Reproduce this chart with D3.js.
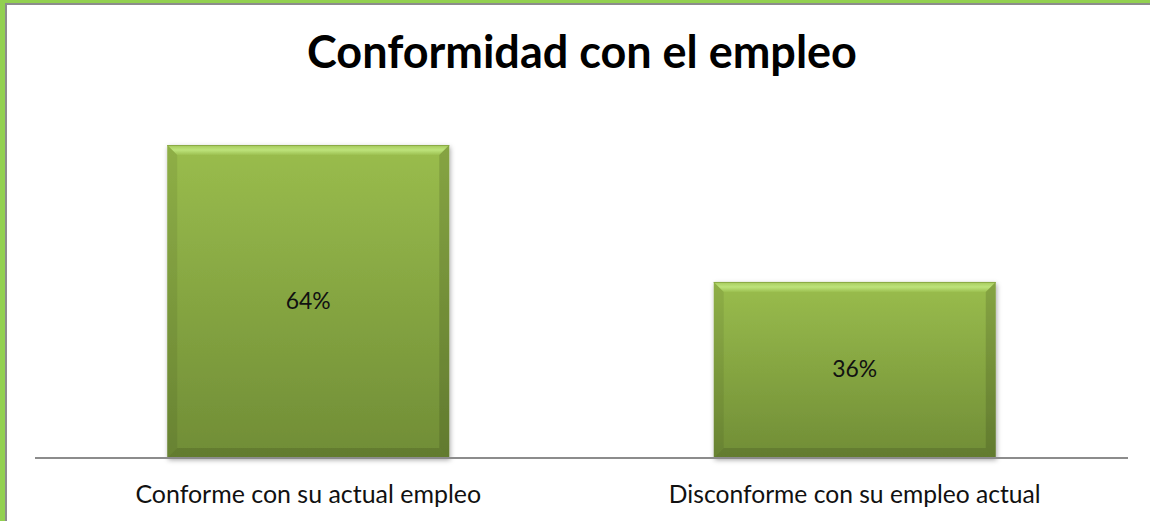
<!DOCTYPE html>
<html><head><meta charset="utf-8">
<script src="https://cdn.jsdelivr.net/npm/d3@7"></script>
<style>html,body{margin:0;padding:0;background:#fff;}svg{display:block;}</style>
</head><body>
<svg id="chart" width="1150" height="521"></svg>
<script>
const title = "Conformidad con el empleo";
const categories = ["Conforme con su actual empleo", "Disconforme con su empleo actual"];
const values = [64, 36];
const valueLabels = ["64%", "36%"];

const W = 1150, H = 521;
const svg = d3.select("#chart");
const font = "Lato, 'Open Sans', 'Liberation Sans', sans-serif";

// frame
svg.append("rect").attr("x",0).attr("y",0).attr("width",W).attr("height",H).attr("fill","#92d050");
svg.append("rect").attr("x",5).attr("y",3).attr("width",W-5).attr("height",H-3).attr("fill","#8c8c8c");
svg.append("rect").attr("x",7).attr("y",5).attr("width",W-7).attr("height",H-5).attr("fill","#ffffff");

const defs = svg.append("defs");
const g1 = defs.append("linearGradient").attr("id","barGrad").attr("x1",0).attr("y1",0).attr("x2",0).attr("y2",1);
g1.append("stop").attr("offset","0%").attr("stop-color","#9abd4d");
g1.append("stop").attr("offset","100%").attr("stop-color","#708d36");
const gTop = defs.append("linearGradient").attr("id","topGrad").attr("x1",0).attr("y1",0).attr("x2",0).attr("y2",1);
gTop.append("stop").attr("offset","0%").attr("stop-color","#a6c95c");
gTop.append("stop").attr("offset","50%").attr("stop-color","#bde37a");
gTop.append("stop").attr("offset","100%").attr("stop-color","#9cc050");
const f = defs.append("filter").attr("id","shadow").attr("x","-10%").attr("y","-10%").attr("width","120%").attr("height","120%");
f.append("feDropShadow").attr("dx",1).attr("dy",2).attr("stdDeviation",2.5).attr("flood-color","#000").attr("flood-opacity",0.35);

const x = d3.scaleBand().domain(categories).range([35, 1128]).paddingInner(0.484).paddingOuter(0.242);
const y = d3.scaleLinear().domain([0, 70]).range([458, 115.7]);

const data = categories.map((c,i)=>({c, v:values[i], lab:valueLabels[i]}));
const bev = 10;

const bars = svg.append("g").selectAll("g").data(data).join("g");
bars.each(function(d){
  const g = d3.select(this);
  const x0 = x(d.c), x1 = x0 + x.bandwidth(), y0 = y(d.v), y1 = y(0);
  g.append("rect").attr("x",x0).attr("y",y0).attr("width",x1-x0).attr("height",y1-y0)
    .attr("fill","url(#barGrad)").attr("filter","url(#shadow)");
  // top bevel
  g.append("polygon").attr("points",[[x0,y0],[x1,y0],[x1-bev,y0+bev],[x0+bev,y0+bev]].join(" "))
    .attr("fill","url(#topGrad)");
  // left bevel
  g.append("polygon").attr("points",[[x0,y0],[x0+bev,y0+bev],[x0+bev,y1-bev],[x0,y1]].join(" "))
    .attr("fill","#000").attr("opacity",0.07);
  // right bevel
  g.append("polygon").attr("points",[[x1,y0],[x1-bev,y0+bev],[x1-bev,y1-bev],[x1,y1]].join(" "))
    .attr("fill","#000").attr("opacity",0.13);
  // bottom bevel
  g.append("polygon").attr("points",[[x0,y1],[x1,y1],[x1-bev,y1-bev],[x0+bev,y1-bev]].join(" "))
    .attr("fill","#000").attr("opacity",0.12);
  g.append("rect").attr("x",x0).attr("y",y0).attr("width",x1-x0).attr("height",1).attr("fill","#8aab45");
});

// axis line
svg.append("line").attr("x1",35).attr("x2",1128).attr("y1",458).attr("y2",458)
  .attr("stroke","#8c8c8c").attr("stroke-width",2);

function fit(sel, target){
  const w = sel.node().getComputedTextLength();
  const fs = parseFloat(sel.attr("font-size"));
  sel.attr("font-size", fs*target/w);
}

// value labels
bars.append("text")
  .attr("x", d=>x(d.c)+x.bandwidth()/2)
  .attr("y", d=>(y(d.v)+y(0))/2 + 7)
  .attr("text-anchor","middle").attr("font-family",font).attr("font-size",20).attr("fill","#111")
  .text(d=>d.lab)
  .each(function(){ fit(d3.select(this), 45); });

// category labels
const widths = [346, 372];
svg.append("g").selectAll("text").data(data).join("text")
  .attr("x", d=>x(d.c)+x.bandwidth()/2)
  .attr("y", 503)
  .attr("text-anchor","middle").attr("font-family",font).attr("font-size",20).attr("fill","#111")
  .text(d=>d.c)
  .each(function(d,i){ fit(d3.select(this), widths[i]); });

// title
const t = svg.append("text").attr("x",582).attr("y",68).attr("text-anchor","middle")
  .attr("font-family",font).attr("font-weight","bold").attr("font-size",36).attr("fill","#000")
  .text(title);
fit(t, 550);
</script>
</body></html>
